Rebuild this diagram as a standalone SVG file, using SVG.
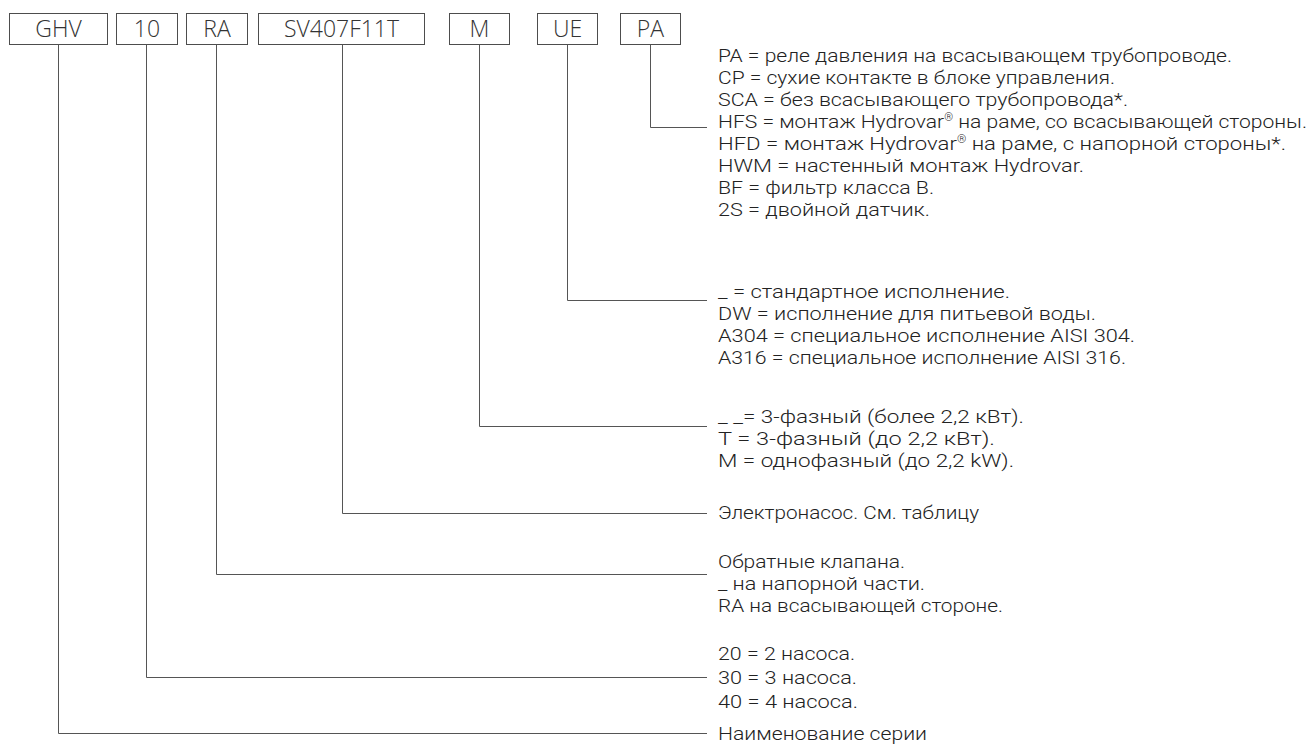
<svg xmlns="http://www.w3.org/2000/svg" width="1312" height="744" viewBox="0 0 1312 744">
<style>
.box{fill:#fff;stroke:#4d4d4d;stroke-width:1}
.code{font-family:"Open Sans","Liberation Sans",sans-serif;font-weight:300;font-size:23px;fill:#333;text-anchor:middle}
.t{font-family:Roboto,"Liberation Sans",sans-serif;font-weight:300;font-size:19px;fill:#222}
.r{font-size:10px}
.ln{fill:none;stroke:#555;stroke-width:1}
</style>
<rect width="1312" height="744" fill="#fff"/>
<g id="node-GHV"><rect class="box" x="9.5" y="13.5" width="98" height="31"/><text class="code" x="58.5" y="36.5">GHV</text></g>
<g id="node-10"><rect class="box" x="116.5" y="13.5" width="61" height="31"/><text class="code" x="147" y="36.5">10</text></g>
<g id="node-RA"><rect class="box" x="186.5" y="13.5" width="61" height="31"/><text class="code" x="217" y="36.5">RA</text></g>
<g id="node-SV"><rect class="box" x="258.5" y="13.5" width="166" height="31"/><text class="code" x="341.5" y="36.5">SV407F11T</text></g>
<g id="node-M"><rect class="box" x="449.5" y="13.5" width="60" height="31"/><text class="code" x="479.5" y="36.5">M</text></g>
<g id="node-UE"><rect class="box" x="537.5" y="13.5" width="60" height="31"/><text class="code" x="567.5" y="36.5">UE</text></g>
<g id="node-PA"><rect class="box" x="620.5" y="13.5" width="60" height="31"/><text class="code" x="650.5" y="36.5">PA</text></g>
<g id="connectors">
<polyline class="ln" points="650.5,44.5 650.5,127.5 707,127.5"/>
<polyline class="ln" points="567.5,44.5 567.5,300.5 707,300.5"/>
<polyline class="ln" points="479.5,44.5 479.5,426.5 707,426.5"/>
<polyline class="ln" points="342.5,44.5 342.5,513.5 707,513.5"/>
<polyline class="ln" points="216.5,44.5 216.5,574.5 707,574.5"/>
<polyline class="ln" points="146.5,44.5 146.5,677.5 707,677.5"/>
<polyline class="ln" points="58.5,44.5 58.5,733.5 707,733.5"/>
</g>
<g id="labels-PA">
<text class="t" x="718" y="62" textLength="514" lengthAdjust="spacingAndGlyphs">PA = реле давления на всасывающем трубопроводе.</text>
<text class="t" x="718" y="84" textLength="397" lengthAdjust="spacingAndGlyphs">CP = сухие контакте в блоке управления.</text>
<text class="t" x="718" y="106" textLength="410" lengthAdjust="spacingAndGlyphs">SCA = без всасывающего трубопровода*.</text>
<text class="t" x="718" y="128" textLength="589" lengthAdjust="spacingAndGlyphs">HFS = монтаж Hydrovar<tspan class="r" dy="-7">®</tspan><tspan dy="7"> на раме, со всасывающей стороны.</tspan></text>
<text class="t" x="718" y="150" textLength="568" lengthAdjust="spacingAndGlyphs">HFD = монтаж Hydrovar<tspan class="r" dy="-7">®</tspan><tspan dy="7"> на раме, с напорной стороны*.</tspan></text>
<text class="t" x="718" y="172" textLength="366" lengthAdjust="spacingAndGlyphs">HWM = настенный монтаж Hydrovar.</text>
<text class="t" x="718" y="194" textLength="216" lengthAdjust="spacingAndGlyphs">BF = фильтр класса B.</text>
<text class="t" x="718" y="216" textLength="212" lengthAdjust="spacingAndGlyphs">2S = двойной датчик.</text>
</g>
<g id="labels-UE">
<text class="t" x="718" y="298" textLength="292" lengthAdjust="spacingAndGlyphs">_ = стандартное исполнение.</text>
<text class="t" x="718" y="320" textLength="378" lengthAdjust="spacingAndGlyphs">DW = исполнение для питьевой воды.</text>
<text class="t" x="718" y="342" textLength="417" lengthAdjust="spacingAndGlyphs">A304 = специальное исполнение AISI 304.</text>
<text class="t" x="718" y="364" textLength="408" lengthAdjust="spacingAndGlyphs">A316 = специальное исполнение AISI 316.</text>
</g>
<g id="labels-M">
<text class="t" x="718" y="423" textLength="306" lengthAdjust="spacingAndGlyphs">_ _= 3-фазный (более 2,2 кВт).</text>
<text class="t" x="718" y="445" textLength="277" lengthAdjust="spacingAndGlyphs">T = 3-фазный (до 2,2 кВт).</text>
<text class="t" x="718" y="467" textLength="296" lengthAdjust="spacingAndGlyphs">M = однофазный (до 2,2 kW).</text>
</g>
<g id="labels-SV">
<text class="t" x="718" y="519" textLength="261" lengthAdjust="spacingAndGlyphs">Электронасос. См. таблицу</text>
</g>
<g id="labels-RA">
<text class="t" x="718" y="568" textLength="187" lengthAdjust="spacingAndGlyphs">Обратные клапана.</text>
<text class="t" x="718" y="590" textLength="207" lengthAdjust="spacingAndGlyphs">_ на напорной части.</text>
<text class="t" x="718" y="612" textLength="285" lengthAdjust="spacingAndGlyphs">RA на всасывающей стороне.</text>
</g>
<g id="labels-10">
<text class="t" x="718" y="660" textLength="137" lengthAdjust="spacingAndGlyphs">20 = 2 насоса.</text>
<text class="t" x="718" y="684" textLength="139" lengthAdjust="spacingAndGlyphs">30 = 3 насоса.</text>
<text class="t" x="718" y="708" textLength="140" lengthAdjust="spacingAndGlyphs">40 = 4 насоса.</text>
</g>
<g id="labels-GHV">
<text class="t" x="718" y="740" textLength="209" lengthAdjust="spacingAndGlyphs">Наименование серии</text>
</g>
</svg>
